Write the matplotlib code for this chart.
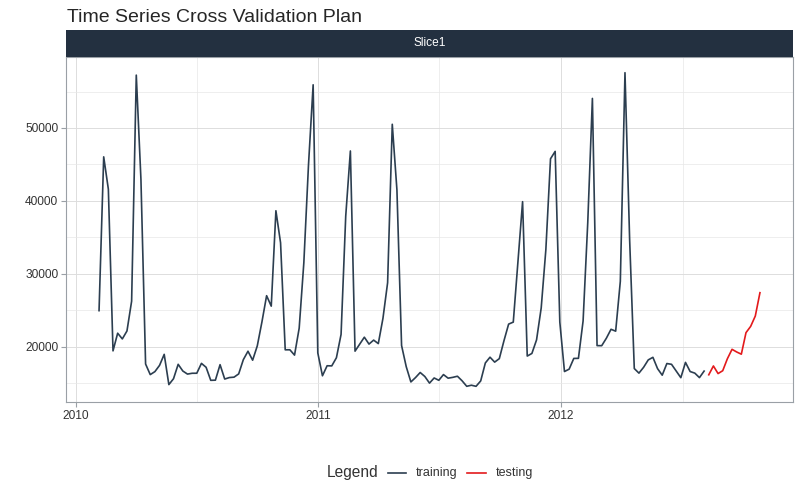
import matplotlib
matplotlib.use("Agg")
import matplotlib.pyplot as plt
import matplotlib.dates as mdates
from matplotlib.lines import Line2D
import pandas as pd

plt.rcParams['font.family'] = ['Liberation Sans', 'DejaVu Sans']

train_start = "2010-02-05"
train_values = [
    24924.50, 46039.49, 41595.55, 19403.54, 21827.90, 21043.39, 22136.64, 26229.21,
    57258.43, 42960.91, 17596.96, 16145.35, 16555.11, 17413.94, 18926.74, 14773.04,
    15580.43, 17558.09, 16637.62, 16216.27, 16328.72, 16333.14, 17688.76, 17150.84,
    15360.45, 15381.82, 17508.41, 15536.40, 15740.13, 15793.87, 16241.78, 18194.74,
    19354.23, 18122.52, 20094.19, 23388.03, 26978.34, 25543.04, 38640.93, 34238.88,
    19549.39, 19552.84, 18820.29, 22517.56, 31497.65, 44912.86, 55931.23, 19124.58,
    15984.24, 17359.70, 17341.47, 18461.18, 21665.76, 37887.17, 46845.87, 19363.83,
    20327.61, 21280.40, 20334.23, 20881.10, 20398.09, 23873.79, 28762.37, 50510.31,
    41512.39, 20138.19, 17235.15, 15136.78, 15741.60, 16434.15, 15883.52, 14978.09,
    15682.81, 15363.50, 16148.87, 15654.85, 15766.60, 15922.41, 15295.55, 14539.79,
    14689.24, 14537.37, 15277.27, 17746.68, 18535.48, 17859.30, 18337.68, 20797.58,
    23077.55, 23351.80, 31579.90, 39886.06, 18689.54, 19050.66, 20911.25, 25293.49,
    33305.92, 45773.03, 46788.75, 23350.88, 16567.69, 16894.40, 18365.10, 18378.16,
    23510.49, 36988.49, 54060.10, 20124.22, 20113.03, 21140.07, 22366.88, 22107.70,
    28952.86, 57592.12, 34684.21, 16976.19, 16347.60, 17147.44, 18164.20, 18517.79,
    16963.55, 16065.49, 17666.00, 17558.82, 16633.41, 15722.82, 17823.37, 16566.18,
    16348.06, 15731.18, 16628.31,
]
test_start = "2012-08-10"
test_values = [
    16119.92, 17330.70, 16286.40, 16680.24, 18322.37, 19616.22, 19251.50, 18947.81,
    21904.47, 22764.01, 24185.27, 27390.81,
]
series_names = ["training", "testing"]
series_colors = ["#2C3E50", "#E31A1C"]
title = "Time Series Cross Validation Plan"
strip_label = "Slice1"
legend_title = "Legend"
y_ticks = [20000, 30000, 40000, 50000]
x_ticks = ["2010-01-01", "2011-01-01", "2012-01-01"]
x_tick_labels = ["2010", "2011", "2012"]

train_dates = pd.date_range(train_start, periods=len(train_values), freq="7D")
test_dates = pd.date_range(test_start, periods=len(test_values), freq="7D")

W, H = 800, 500
fig = plt.figure(figsize=(8, 5), dpi=100)
left, right = 66 / W, 793 / W
bottom, top = 1 - 402 / H, 1 - 57 / H
ax = fig.add_axes([left, bottom, right - left, top - bottom])

ax.plot(train_dates, train_values, color=series_colors[0], lw=1.2, label=series_names[0])
ax.plot(test_dates, test_values, color=series_colors[1], lw=1.2, label=series_names[1])

all_dates = list(train_dates) + list(test_dates)
all_vals = train_values + test_values
xmin, xmax = mdates.date2num(min(all_dates)), mdates.date2num(max(all_dates))
xr = xmax - xmin
ax.set_xlim(xmin - 0.05 * xr, xmax + 0.05 * xr)
ymin, ymax = min(all_vals), max(all_vals)
yr = ymax - ymin
ax.set_ylim(ymin - 0.05 * yr, ymax + 0.05 * yr)

ax.set_yticks(y_ticks)
ax.set_yticklabels([str(v) for v in y_ticks])
ax.set_yticks([15000, 25000, 35000, 45000, 55000], minor=True)
ax.set_xticks([mdates.date2num(pd.Timestamp(d)) for d in x_ticks])
ax.set_xticklabels(x_tick_labels)
ax.set_xticks([mdates.date2num(pd.Timestamp(d)) for d in ["2010-07-02", "2011-07-02", "2012-07-02"]], minor=True)

ax.grid(which="major", color="#DDDDDD", lw=0.7)
ax.grid(which="minor", color="#E8E8E8", lw=0.5)
ax.set_axisbelow(True)
for s in ax.spines.values():
    s.set_color("#9AA0A6")
    s.set_linewidth(0.8)
ax.tick_params(which="major", length=3.5, color="#9AA0A6", labelsize=8.6, labelcolor="#333333", pad=2)
ax.tick_params(which="minor", length=0)

# strip
strip_ax = fig.add_axes([left, 1 - 57 / H, right - left, 27 / H])
strip_ax.set_facecolor("#233040")
strip_ax.set_xticks([]); strip_ax.set_yticks([])
for s in strip_ax.spines.values():
    s.set_visible(False)
strip_ax.text(0.5, 0.5, strip_label, color="white", fontsize=8.6, ha="center", va="center",
              transform=strip_ax.transAxes)

fig.text(67 / W, 1 - 17 / H, title, fontsize=14, color="#262626", ha="left", va="center")

# legend (manual, horizontal with title on left)
ly = 1 - 473 / H
fig.text(327 / W, ly, legend_title, fontsize=11.2, color="#333333", ha="left", va="center")
handle_x = [(388, 406), (467, 486)]
text_x = [416, 496]
for (x0, x1), tx, name, col in zip(handle_x, text_x, series_names, series_colors):
    fig.add_artist(Line2D([x0 / W, x1 / W], [ly, ly], color=col, lw=1.2, transform=fig.transFigure))
    fig.text(tx / W, ly, name, fontsize=9, color="#333333", ha="left", va="center")

fig.savefig("out.png", dpi=100)
